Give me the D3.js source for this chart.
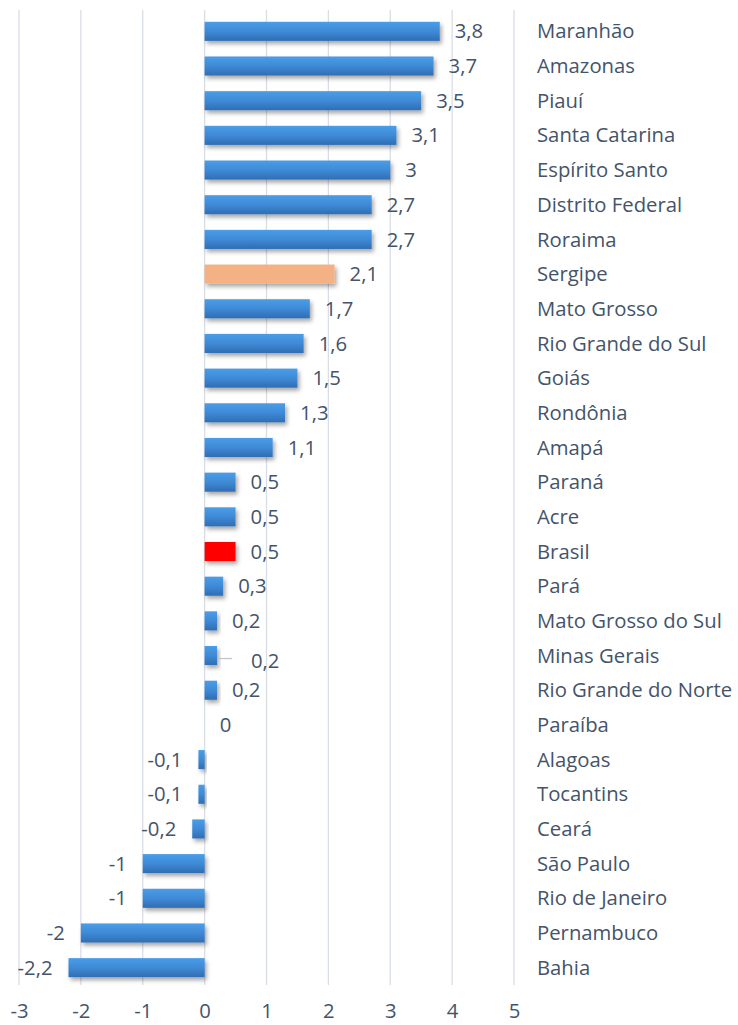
<!DOCTYPE html>
<html><head><meta charset="utf-8">
<script src="https://cdn.jsdelivr.net/npm/d3@7"></script>
<style>body{margin:0;background:#fff}svg{display:block}</style>
</head><body>
<svg id="c" width="738" height="1025"></svg>
<script>
const categories = ["Maranhão","Amazonas","Piauí","Santa Catarina","Espírito Santo","Distrito Federal","Roraima","Sergipe","Mato Grosso","Rio Grande do Sul","Goiás","Rondônia","Amapá","Paraná","Acre","Brasil","Pará","Mato Grosso do Sul","Minas Gerais","Rio Grande do Norte","Paraíba","Alagoas","Tocantins","Ceará","São Paulo","Rio de Janeiro","Pernambuco","Bahia"];
const values = [3.8,3.7,3.5,3.1,3,2.7,2.7,2.1,1.7,1.6,1.5,1.3,1.1,0.5,0.5,0.5,0.3,0.2,0.2,0.2,0,-0.1,-0.1,-0.2,-1,-1,-2,-2.2];
const valueLabels = ["3,8","3,7","3,5","3,1","3","2,7","2,7","2,1","1,7","1,6","1,5","1,3","1,1","0,5","0,5","0,5","0,3","0,2","0,2","0,2","0","-0,1","-0,1","-0,2","-1","-1","-2","-2,2"];
const highlight = {"Sergipe":"#F4B183","Brasil":"#FF0000"};
const tickValues = [-3,-2,-1,0,1,2,3,4,5];

const svg = d3.select("#c");
const font = "'Open Sans', sans-serif";
const fs = 20.3;
const txt = "#44546A";
const x = d3.scaleLinear().domain([-3,5]).range([19,514]);
const y = d3.scaleBand().domain(categories).range([14,985]).paddingInner(0.45).paddingOuter(0.225);

const defs = svg.append("defs");
const g = defs.append("linearGradient").attr("id","blueg").attr("x1",0).attr("y1",0).attr("x2",0).attr("y2",1);
g.append("stop").attr("offset","0%").attr("stop-color","#4A9DE8");
g.append("stop").attr("offset","50%").attr("stop-color","#3F8AD6");
g.append("stop").attr("offset","100%").attr("stop-color","#2F6DB3");
const f = defs.append("filter").attr("id","sh").attr("x","-20%").attr("y","-40%").attr("width","150%").attr("height","200%");
f.append("feDropShadow").attr("dx",2).attr("dy",3).attr("stdDeviation",2.2).attr("flood-color","#000").attr("flood-opacity",0.35);

// gridlines
svg.append("g").selectAll("line").data(tickValues).join("line")
  .attr("x1",d=>x(d)).attr("x2",d=>x(d)).attr("y1",10).attr("y2",985)
  .attr("stroke","#D9DEE6").attr("stroke-width",1.3);

// axis tick labels
const ax = svg.append("g").attr("transform","translate(0,1006)")
  .call(d3.axisBottom(x).tickValues(tickValues).tickSize(0).tickPadding(0).tickFormat(d=>String(d)));
ax.select(".domain").remove();
ax.selectAll("text").attr("font-family",font).attr("font-size",fs).attr("fill",txt).attr("dy","0.6em");

// bars
const bh = y.bandwidth();
svg.append("g").selectAll("rect").data(categories).join("rect")
  .attr("x",(d,i)=>x(Math.min(0,values[i])))
  .attr("y",d=>y(d))
  .attr("width",(d,i)=>Math.abs(x(values[i])-x(0)))
  .attr("height",bh)
  .attr("fill",d=>highlight[d]||"url(#blueg)")
  .attr("filter",(d,i)=>values[i]===0?null:"url(#sh)");

// value labels
svg.append("g").selectAll("text").data(categories).join("text")
  .attr("font-family",font).attr("font-size",fs).attr("fill",txt)
  .attr("dy","0.35em")
  .attr("x",(d,i)=>values[i]<0 ? x(values[i])-16 : x(values[i])+15 + (d==="Minas Gerais"?19:0))
  .attr("y",(d,i)=>y(d)+bh/2 + (d==="Minas Gerais"?5:0))
  .attr("text-anchor",(d,i)=>values[i]<0?"end":"start")
  .text((d,i)=>valueLabels[i]);

// leader line for Minas Gerais
const mi = categories.indexOf("Minas Gerais");
svg.append("line").attr("x1",x(values[mi])+1).attr("x2",x(values[mi])+15)
  .attr("y1",y("Minas Gerais")+bh/2+3).attr("y2",y("Minas Gerais")+bh/2+3)
  .attr("stroke","#BFC5CF").attr("stroke-width",1.3);

// category labels
svg.append("g").selectAll("text").data(categories).join("text")
  .attr("font-family",font).attr("font-size",fs).attr("fill",txt)
  .attr("x",537).attr("y",d=>y(d)+bh/2).attr("dy","0.35em")
  .text(d=>d);
</script>
</body></html>
